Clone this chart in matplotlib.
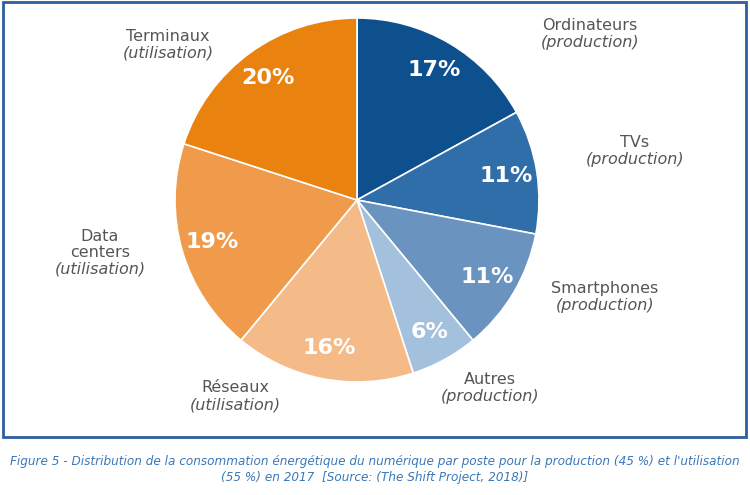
import matplotlib.pyplot as plt
from matplotlib.patches import Rectangle

# data: share of digital energy consumption per item, 2017
postes = ["Ordinateurs", "TVs", "Smartphones", "Autres", "Réseaux", "Data\ncenters", "Terminaux"]
types = ["production", "production", "production", "production", "utilisation", "utilisation", "utilisation"]
parts = [17, 11, 11, 6, 16, 19, 20]
couleurs = ["#0e4f8e", "#2f6ea8", "#6b93bf", "#a3c1dc", "#f4bb88", "#f09b4b", "#e9820f"]

# label positions in pixels (layout only): boundary between name and type line
label_xy = [(590, 34), (635, 151), (605, 297), (490, 388), (235, 396), (100, 261), (168, 45)]

W, H = 750, 495
fig = plt.figure(figsize=(7.5, 4.95), dpi=100)
ax = fig.add_axes([0, 0, 1, 1])
ax.set_xlim(0, W)
ax.set_ylim(0, H)
ax.set_aspect("equal")
ax.axis("off")

# frame around the chart
ax.add_patch(Rectangle((3, H - 437), 743, 435, fill=False, edgecolor="#2d5f9e", lw=2))

wedges, txts, pcts = ax.pie(parts, colors=couleurs, startangle=90, counterclock=False,
                            center=(357, H - 200), radius=182,
                            autopct="%d%%", pctdistance=0.83,
                            wedgeprops=dict(edgecolor="white", linewidth=1.2),
                            textprops=dict(color="white", fontsize=16, fontweight="bold"))
ax.set_xlim(0, W)
ax.set_ylim(0, H)

for (x, y), nom, t in zip(label_xy, postes, types):
    ax.text(x, H - y + 1, nom, ha="center", va="bottom", fontsize=11.5, color="#555555",
            linespacing=1.05)
    ax.text(x, H - y - 1, "(" + t + ")", ha="center", va="top",
            fontsize=11.5, color="#555555", style="italic")

cap = ("Figure 5 - Distribution de la consommation énergétique du numérique par poste pour la production (45 %) et l'utilisation\n"
       "(55 %) en 2017  [Source: (The Shift Project, 2018)]")
ax.text(W / 2, H - 470, cap, ha="center", va="center", fontsize=9.6, color="#3a78b8",
        style="italic", family="DejaVu Sans", stretch="condensed", linespacing=1.3)

fig.savefig("out.png", dpi=100)
